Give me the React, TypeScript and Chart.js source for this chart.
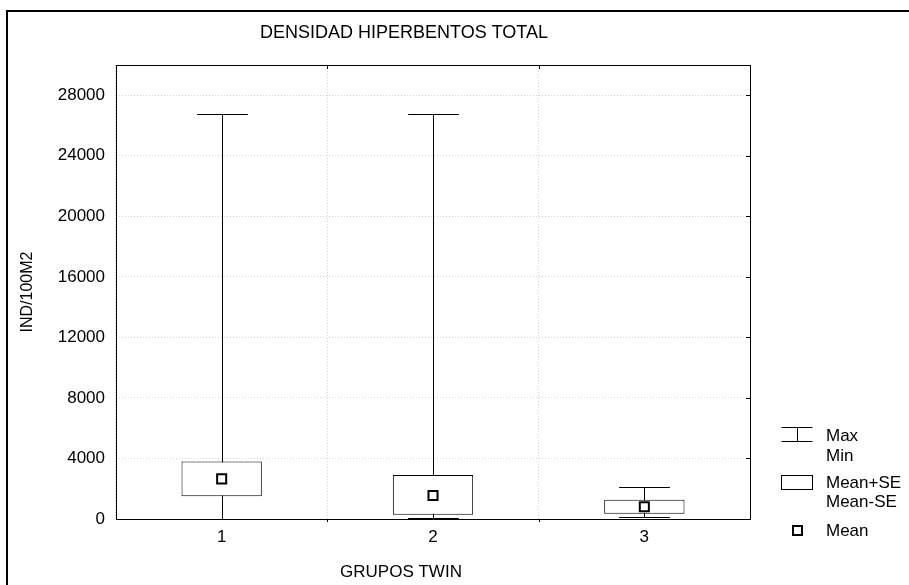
import React, { useEffect, useRef } from 'react';
import { Chart, registerables } from 'chart.js';

Chart.register(...registerables);

// ---- Data ----
const categories = ['1', '2', '3'];
const maxValues = [26750, 26750, 2130];
const minValues = [20, 50, 110];
const meanPlusSE = [3800, 2900, 1280];
const meanMinusSE = [1500, 280, 350];
const meanValues = [2650, 1550, 810];
const yTickValues = [0, 4000, 8000, 12000, 16000, 20000, 24000, 28000];
const yMin = 0;
const yMax = 30000;
const chartTitle = 'DENSIDAD HIPERBENTOS TOTAL';
const xAxisTitle = 'GRUPOS TWIN';
const yAxisTitle = 'IND/100M2';
const legendWhiskerLabels = ['Max', 'Min'];
const legendBoxLabels = ['Mean+SE', 'Mean-SE'];
const legendMeanLabel = 'Mean';

const FONT = '"Liberation Sans", Arial, sans-serif';

const whiskerPlugin = {
  id: 'whiskers',
  beforeDatasetsDraw(chart: any) {
    const { ctx, scales } = chart;
    const xs = scales.x;
    const ys = scales.y;
    const catW = (xs.right - xs.left) / categories.length;
    const half = catW * 0.12;
    ctx.save();
    ctx.strokeStyle = '#000';
    ctx.lineWidth = 1;
    categories.forEach((_, i) => {
      const x = Math.round(xs.getPixelForValue(i)) + 0.5;
      const yMaxP = Math.round(ys.getPixelForValue(maxValues[i])) + 0.5;
      const yMinP = Math.round(ys.getPixelForValue(minValues[i])) + 0.5;
      ctx.beginPath();
      ctx.moveTo(x, yMaxP);
      ctx.lineTo(x, yMinP);
      ctx.moveTo(x - half, yMaxP);
      ctx.lineTo(x + half, yMaxP);
      ctx.moveTo(x - half, yMinP);
      ctx.lineTo(x + half, yMinP);
      ctx.stroke();
    });
    ctx.restore();
  },
};

const decorPlugin = {
  id: 'decor',
  afterDraw(chart: any) {
    const { ctx, chartArea, scales } = chart;
    const { left, right, top, bottom } = chartArea;
    ctx.save();
    // outer frame (top & left only visible)
    ctx.fillStyle = '#000';
    ctx.fillRect(6, 10, 903, 2);
    ctx.fillRect(6, 10, 2, 575);

    // plot border
    ctx.strokeStyle = '#000';
    ctx.lineWidth = 1;
    ctx.strokeRect(Math.round(left) + 0.5, Math.round(top) + 0.5, Math.round(right - left), Math.round(bottom - top));

    // small inner ticks
    ctx.beginPath();
    yTickValues.forEach((v) => {
      if (v === 0) return;
      const y = Math.round(scales.y.getPixelForValue(v)) + 0.5;
      ctx.moveTo(right, y);
      ctx.lineTo(right - 4, y);
    });
    const catW = (right - left) / categories.length;
    for (let i = 1; i < categories.length; i++) {
      const x = Math.round(left + catW * i) + 0.5;
      ctx.moveTo(x, top);
      ctx.lineTo(x, top + 4);
      ctx.moveTo(x, bottom);
      ctx.lineTo(x, bottom + 3);
    }
    ctx.stroke();

    // titles
    ctx.fillStyle = '#000';
    ctx.textAlign = 'center';
    ctx.textBaseline = 'middle';
    ctx.font = `18px ${FONT}`;
    ctx.fillText(chartTitle, 404, 33);
    ctx.font = `17px ${FONT}`;
    ctx.fillText(xAxisTitle, 401, 572);
    ctx.save();
    ctx.translate(28, 292);
    ctx.rotate(-Math.PI / 2);
    ctx.font = `16px ${FONT}`;
    ctx.fillText(yAxisTitle, 0, 0);
    ctx.restore();

    // legend
    const lx1 = 781.5;
    const lx2 = 812.5;
    const lxc = 797;
    ctx.beginPath();
    ctx.moveTo(lx1, 427.5);
    ctx.lineTo(lx2, 427.5);
    ctx.moveTo(lx1, 441.5);
    ctx.lineTo(lx2, 441.5);
    ctx.moveTo(lxc + 0.5, 427.5);
    ctx.lineTo(lxc + 0.5, 441.5);
    ctx.stroke();
    ctx.strokeRect(lx1, 475.5, lx2 - lx1, 14);
    ctx.lineWidth = 2;
    ctx.strokeRect(lxc - 4, 526, 9, 9);
    ctx.lineWidth = 1;

    ctx.textAlign = 'left';
    ctx.font = `17px ${FONT}`;
    ctx.fillText(legendWhiskerLabels[0], 826, 436);
    ctx.fillText(legendWhiskerLabels[1], 826, 456);
    ctx.fillText(legendBoxLabels[0], 826, 483);
    ctx.fillText(legendBoxLabels[1], 826, 502);
    ctx.fillText(legendMeanLabel, 826, 531);
    ctx.restore();
  },
};

export default function App() {
  const ref = useRef<HTMLCanvasElement | null>(null);

  useEffect(() => {
    if (!ref.current) return;
    const chart = new Chart(ref.current, {
      type: 'bar',
      data: {
        labels: categories,
        datasets: [
          {
            type: 'line',
            label: 'Mean',
            data: meanValues,
            showLine: false,
            pointStyle: 'rect',
            pointRadius: 6.4,
            pointBorderWidth: 2,
            pointBackgroundColor: '#fff',
            pointBorderColor: '#000',
            order: 0,
          } as any,
          {
            type: 'bar',
            label: 'Mean±SE',
            data: categories.map((_, i) => [meanMinusSE[i], meanPlusSE[i]]),
            backgroundColor: '#fff',
            borderColor: '#000',
            borderWidth: 1,
            borderSkipped: false,
            barPercentage: 0.38,
            categoryPercentage: 1,
            order: 1,
          } as any,
        ],
      },
      options: {
        animation: false,
        responsive: false,
        devicePixelRatio: 1,
        layout: { padding: { top: 65, right: 159, bottom: 0, left: 0 } },
        plugins: {
          legend: { display: false },
          title: { display: false },
          tooltip: { enabled: false },
        },
        scales: {
          x: {
            type: 'category',
            offset: true,
            grid: {
              offset: true,
              color: '#d4d4d4',
              drawTicks: false,
            },
            border: { display: false, dash: [1, 2] },
            ticks: {
              color: '#000',
              font: { family: FONT, size: 17 },
              padding: 8,
            },
            afterFit: (s: any) => {
              s.height = 66;
            },
          },
          y: {
            type: 'linear',
            min: yMin,
            max: yMax,
            grid: {
              color: '#d4d4d4',
              drawTicks: false,
            },
            border: { display: false, dash: [1, 2] },
            ticks: {
              color: '#000',
              font: { family: FONT, size: 17 },
              padding: 11,
              callback: (v: any) => String(v),
            },
            afterBuildTicks: (s: any) => {
              s.ticks = yTickValues.map((v) => ({ value: v }));
            },
            afterFit: (s: any) => {
              s.width = 116;
            },
          },
        },
      },
      plugins: [whiskerPlugin, decorPlugin],
    });
    return () => chart.destroy();
  }, []);

  return (
    <div style={{ position: 'fixed', left: 0, top: 0, width: 909, height: 585, background: '#fff' }}>
      <canvas ref={ref} width={909} height={585} style={{ display: 'block' }} />
    </div>
  );
}
